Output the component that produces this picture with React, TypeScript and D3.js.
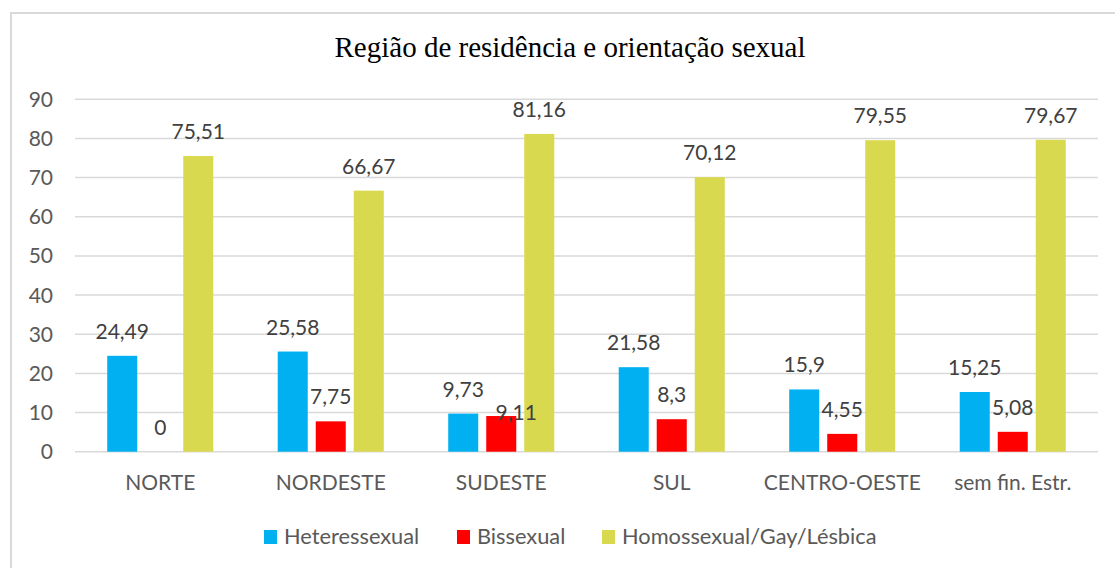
import React from "react";
import * as d3 from "d3";

const categories = ["NORTE", "NORDESTE", "SUDESTE", "SUL", "CENTRO-OESTE", "sem fin. Estr."];
const seriesNames = ["Heteressexual", "Bissexual", "Homossexual/Gay/Lésbica"];
const hetero = [24.49, 25.58, 9.73, 21.58, 15.9, 15.25];
const bi = [0, 7.75, 9.11, 8.3, 4.55, 5.08];
const homo = [75.51, 66.67, 81.16, 70.12, 79.55, 79.67];
const colors = ["#00B0F0", "#FF0000", "#D9D94F"];
const yTicks = [0, 10, 20, 30, 40, 50, 60, 70, 80, 90];
const title = "Região de residência e orientação sexual";

const fmt = (v: number) => String(v).replace(".", ",");

export default function App() {
  const W = 1115, H = 568;
  const left = 75, right = 1098, top = 99.3, bottom = 451.7;
  const series = [hetero, bi, homo];
  const x0 = d3.scaleBand().domain(categories).range([left, right]).paddingInner(0.378).paddingOuter(0.189);
  const x1 = d3.scaleBand().domain(seriesNames).range([0, x0.bandwidth()]).paddingInner(0.21);
  const y = d3.scaleLinear().domain([0, 90]).range([bottom, top]);
  const font = "Lato, 'Open Sans', sans-serif";
  const fs = 21;

  // label nudge for overlapping label (SUDESTE / Bissexual)
  const nudge = (si: number, ci: number) => (si === 1 && ci === 2 ? { dx: 15, dy: 21 } : { dx: 0, dy: 0 });

  const legendX = [264, 457, 602];

  return (
    <div style={{ position: "absolute", left: 0, top: 0 }}>
      <svg width={W} height={H} style={{ display: "block", background: "#fff" }}>
        <rect x={11} y={13} width={W + 10} height={H + 10} fill="#fff" stroke="#D9D9D9" strokeWidth={2} />
        <text x={570} y={57} textAnchor="middle" fontFamily="'Liberation Serif', 'Times New Roman', serif" fontSize={29} fill="#000">
          {title}
        </text>
        {yTicks.map((t) => (
          <g key={t}>
            <line x1={left} x2={right} y1={y(t)} y2={y(t)} stroke="#D9D9D9" strokeWidth={1.5} />
            <text x={53} y={y(t)} dy="0.36em" textAnchor="end" fontFamily={font} fontSize={fs} fill="#595959">
              {t}
            </text>
          </g>
        ))}
        {categories.map((c, ci) => (
          <g key={c} transform={`translate(${x0(c)},0)`}>
            {series.map((s, si) => {
              const bx = x1(seriesNames[si])!;
              const v = s[ci];
              return <rect key={si} x={bx} y={y(v)} width={x1.bandwidth()} height={y(0) - y(v)} fill={colors[si]} />;
            })}
            <text x={x0.bandwidth() / 2} y={490} textAnchor="middle" fontFamily={font} fontSize={fs} fill="#595959">
              {c}
            </text>
          </g>
        ))}
        {categories.map((c, ci) => (
          <g key={c + "-labels"} transform={`translate(${x0(c)},0)`}>
            {series.map((s, si) => {
              const bx = x1(seriesNames[si])!;
              const bw = x1.bandwidth();
              const v = s[ci];
              const n = nudge(si, ci);
              return (
                <text key={si} x={bx + bw / 2 + n.dx} y={y(v) - 17 + n.dy} textAnchor="middle" fontFamily={font} fontSize={fs} fill="#404040">
                  {fmt(v)}
                </text>
              );
            })}
          </g>
        ))}
        {seriesNames.map((s, i) => (
          <g key={s}>
            <rect x={legendX[i]} y={530} width={13} height={14} fill={colors[i]} />
            <text x={legendX[i] + 20} y={544} fontFamily={font} fontSize={21.8} fill="#595959">
              {s}
            </text>
          </g>
        ))}
      </svg>
    </div>
  );
}
